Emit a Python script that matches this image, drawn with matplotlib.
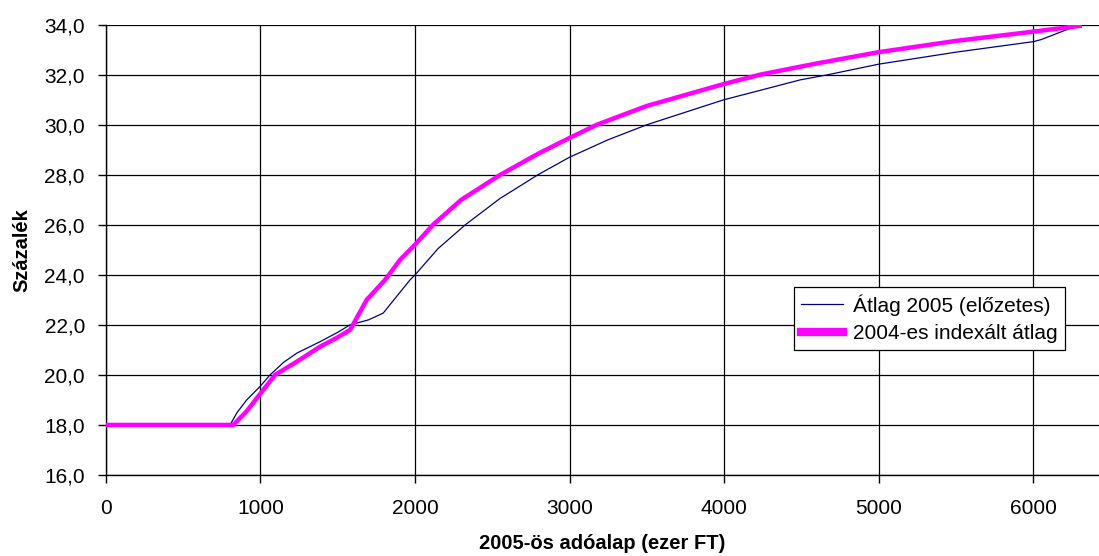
import numpy as np
import matplotlib
matplotlib.use("Agg")
import matplotlib.pyplot as plt
from matplotlib.ticker import FuncFormatter

plt.rcParams["font.family"] = ["Liberation Sans", "DejaVu Sans"]

# =====================================================
# DATA
# =====================================================

x_blue = [0, 804, 850, 912, 1000, 1063, 1150, 1236, 1387, 1500, 1580, 1700,
          1795, 1860, 1969, 2001, 2150, 2326, 2550, 2796, 3000, 3250, 3501,
          3750, 4000, 4250, 4491, 4673, 5000, 5500, 6000, 6050, 6300]
y_blue = [18.0, 18.0, 18.5, 19.0, 19.55, 20.0, 20.5, 20.87, 21.33, 21.7, 22.0, 22.2,
          22.47, 22.97, 23.8, 24.0, 25.05, 26.0, 27.05, 28.0, 28.7, 29.4, 30.0,
          30.5, 31.0, 31.4, 31.79, 32.0, 32.42, 32.9, 33.32, 33.4, 34.0]

x_pink = [0, 825, 912, 1000, 1095, 1236, 1387, 1500, 1581, 1688, 1807, 1904,
          2000, 2117, 2300, 2553, 2800, 3000, 3177, 3500, 4000, 4232, 4600,
          5000, 5500, 6000, 6300]
y_pink = [18.0, 18.0, 18.55, 19.25, 20.0, 20.53, 21.13, 21.5, 21.8, 23.0, 23.8, 24.6,
          25.2, 26.0, 27.0, 28.0, 28.85, 29.47, 30.0, 30.75, 31.63, 32.0, 32.45,
          32.9, 33.35, 33.72, 33.95]

label_blue = "Átlag 2005 (előzetes)"
label_pink = "2004-es indexált átlag"

x_ticks = [0, 1000, 2000, 3000, 4000, 5000, 6000]
y_ticks = [16, 18, 20, 22, 24, 26, 28, 30, 32, 34]

# =====================================================
# PLOT
# =====================================================

fig = plt.figure(figsize=(10.99, 5.56), dpi=100)
ax = fig.add_axes([0.0962, 0.1457, 0.9038, 0.81])

ax.plot(x_blue, y_blue, color="#000080", lw=0.9, label=label_blue, zorder=3)
ax.plot(x_pink, y_pink, color="#FF00FF", lw=3.2, label=label_pink, zorder=4,
        solid_joinstyle="round")

ax.set_xlim(0, 6425)
ax.set_ylim(16, 34)
ax.set_xticks(x_ticks)
ax.set_yticks(y_ticks)
ax.yaxis.set_major_formatter(FuncFormatter(lambda v, p: f"{v:.1f}".replace(".", ",")))

ax.grid(True, color="black", lw=0.9)
ax.set_axisbelow(True)
for s in ["top", "right"]:
    ax.spines[s].set_visible(False)
for s in ["left", "bottom"]:
    ax.spines[s].set_color("black")
    ax.spines[s].set_linewidth(1.0)

ax.tick_params(axis="both", labelsize=15, colors="black", length=6, width=1)
ax.tick_params(axis="x", pad=11)
ax.tick_params(axis="y", pad=9)

ax.set_xlabel("2005-ös adóalap (ezer FT)", fontsize=14.5, fontweight="bold", labelpad=12)
ax.set_ylabel("Százalék", fontsize=14.5, fontweight="bold", labelpad=9)

leg = ax.legend(loc="upper left", bbox_to_anchor=(0.693, 0.4175), fontsize=15,
                frameon=True, fancybox=False, edgecolor="black", framealpha=1,
                handlelength=2.0, borderpad=0.35, labelspacing=0.4,
                handletextpad=0.5, borderaxespad=0)
leg.get_frame().set_linewidth(0.9)
leg.get_lines()[1].set_linewidth(6)

fig.savefig("out.png", dpi=100)
